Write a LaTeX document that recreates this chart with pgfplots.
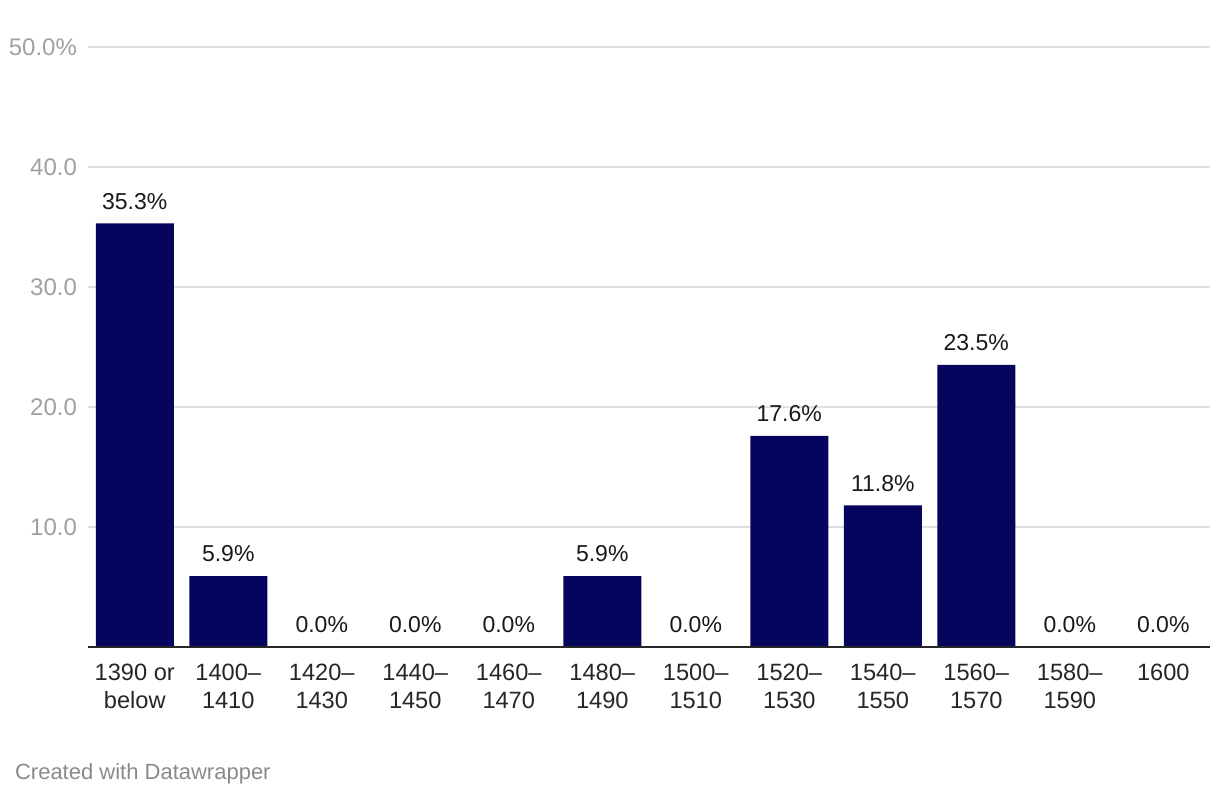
\documentclass[border=0pt]{standalone}
\usepackage{pgfplots}
\pgfplotsset{compat=1.18}
\usepackage{fontspec}
\setmainfont{Liberation Sans}
\definecolor{barblue}{HTML}{05055E}
\definecolor{gridgray}{HTML}{E0E0E0}
\definecolor{ticklbl}{HTML}{A0A0A0}
\definecolor{footgray}{HTML}{8A8A8A}
\begin{document}
\begin{tikzpicture}
\path[use as bounding box] (0,0) rectangle (610pt,398pt);
\begin{axis}[
    at={(44pt,74.5pt)}, anchor=south west,
    scale only axis,
    width=561pt, height=300pt,
    ybar, bar width=39pt,
    xmin=-0.5, xmax=11.5,
    ymin=0, ymax=50,
    axis line style={draw=none},
    xtick=data,
    xticklabels={1390 or\\below, 1400–\\1410, 1420–\\1430, 1440–\\1450, 1460–\\1470, 1480–\\1490, 1500–\\1510, 1520–\\1530, 1540–\\1550, 1560–\\1570, 1580–\\1590, 1600},
    xticklabel style={align=center, font=\fontsize{11.8}{14}\selectfont, text=black!85, anchor=north, yshift=-0.5pt},
    x tick style={draw=none},
    ytick={10,20,30,40,50},
    yticklabels={10.0,20.0,30.0,40.0,50.0\%},
    yticklabel style={font=\fontsize{12}{14}\selectfont, text=ticklbl, anchor=east, xshift=-2pt},
    y tick style={draw=none},
    ymajorgrids,
    grid style={gridgray, line width=0.6pt},
    /pgf/number format/assume math mode=true,
    nodes near coords={\pgfmathprintnumber[fixed,fixed zerofill,precision=1]{\pgfplotspointmeta}\%},
    every node near coord/.append style={font=\fontsize{11.5}{13}\selectfont, text=black!90, yshift=3.5pt},
    clip=false,
]
\addplot[fill=barblue, draw=none] coordinates {
    (0,35.3) (1,5.9) (2,0) (3,0) (4,0) (5,5.9)
    (6,0) (7,17.6) (8,11.8) (9,23.5) (10,0) (11,0)
};
\draw[black!85, line width=1pt] (axis cs:-0.5,0) -- (axis cs:11.5,0);
\end{axis}
\node[anchor=base west, font=\fontsize{11}{13}\selectfont, text=footgray] at (4pt,8pt) {Created with Datawrapper};
\end{tikzpicture}
\end{document}
